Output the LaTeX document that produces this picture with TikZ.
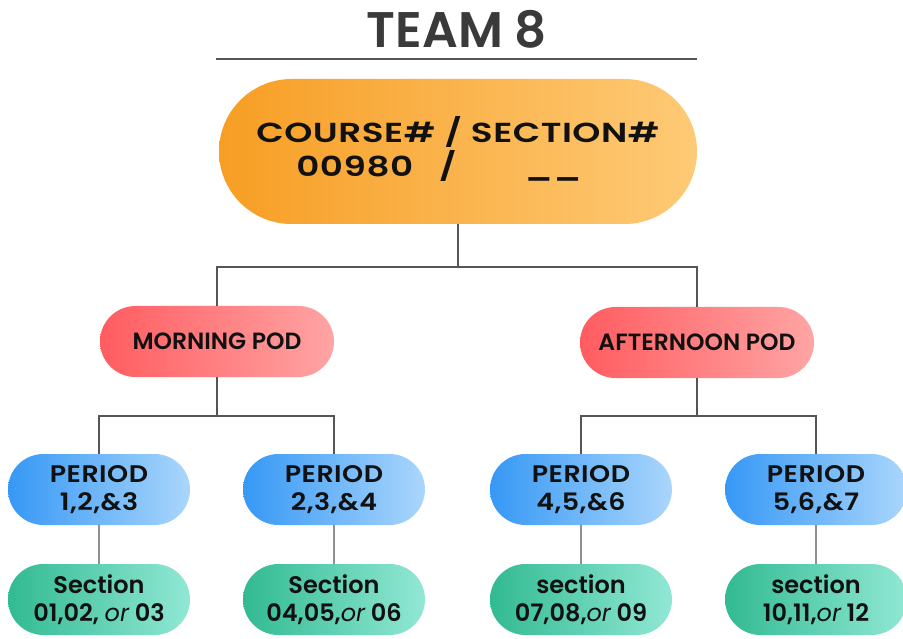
\documentclass[tikz,border=0pt]{standalone}
\usepackage{fontspec}
\setmainfont{Poppins}[BoldFont={Poppins SemiBold}]
\newfontfamily\coursefont{Poppins}[BoldFont={Poppins SemiBold},FakeStretch=1.3,LetterSpace=2]
\newfontfamily\periodfont{Poppins}[BoldFont={Poppins SemiBold},FakeStretch=1.12,LetterSpace=2]
\usetikzlibrary{shapes.misc}
\definecolor{orL}{RGB}{247,158,36}
\definecolor{orR}{RGB}{254,202,118}
\definecolor{pkL}{RGB}{255,92,96}
\definecolor{pkR}{RGB}{255,164,164}
\definecolor{blL}{RGB}{54,152,245}
\definecolor{blR}{RGB}{170,214,252}
\definecolor{grL}{RGB}{50,186,146}
\definecolor{grR}{RGB}{145,232,212}
\definecolor{ink}{RGB}{17,17,17}
\definecolor{ttl}{RGB}{58,58,58}
\definecolor{wire}{RGB}{85,85,85}
\tikzset{
  pill/.style={rounded rectangle, inner sep=0pt, text=ink, align=center},
  course/.style={pill, minimum width=478pt, minimum height=145pt, left color=orL, right color=orR, font=\coursefont\bfseries\fontsize{27.5}{32}\selectfont},
  pod/.style={pill, minimum width=234pt, minimum height=71pt, left color=pkL, right color=pkR, font=\bfseries\fontsize{23.5}{27}\selectfont},
  period/.style={pill, minimum width=182pt, minimum height=71pt, left color=blL, right color=blR, font=\periodfont\bfseries\fontsize{24}{28}\selectfont},
  sect/.style={pill, minimum width=182pt, minimum height=71pt, left color=grL, right color=grR, font=\bfseries\fontsize{24}{28}\selectfont},
  wirel/.style={draw=wire, line width=1.2pt},
}
\begin{document}
\begin{tikzpicture}[x=1pt,y=-1pt]
\useasboundingbox (0,0) rectangle (903,639);
\node[text=ttl, font=\bfseries\fontsize{50}{56}\selectfont] (title) at (457,29) {TEAM 8};
\draw[wirel] (216,59) -- (697,59);

\node[course] (course) at (458,151.5) {\begin{tabular}{@{}l@{}}COURSE\# / SECTION\#\\[-2pt]\hspace*{40pt}00980\hspace{26pt}/\hspace{68pt}\_\_\end{tabular}};

\node[pod] (morning) at (217,341.5) {MORNING POD};
\node[pod] (afternoon) at (697,342.5) {AFTERNOON POD};

\node[period] (p1) at (99,489.5) {PERIOD\\1,2,\&3};
\node[period] (p2) at (334,489.5) {PERIOD\\2,3,\&4};
\node[period] (p3) at (581,489.5) {PERIOD\\4,5,\&6};
\node[period] (p4) at (816,489.5) {PERIOD\\5,6,\&7};

\node[sect] (s1) at (99,599.5) {Section\\01,02, {\mdseries\itshape or} 03};
\node[sect] (s2) at (334,599.5) {Section\\04,05,{\mdseries\itshape or} 06};
\node[sect] (s3) at (581,599.5) {section\\07,08,{\mdseries\itshape or} 09};
\node[sect] (s4) at (816,599.5) {section\\10,11,{\mdseries\itshape or} 12};

\coordinate (j0) at (458,267);
\coordinate (j1) at (217,416);
\coordinate (j2) at (697,416);

\draw[wirel] (course.south) -- (j0);
\draw[wirel] (morning.north) -- (morning.north |- j0) -- (afternoon.north |- j0) -- (afternoon.north);
\draw[wirel] (morning.south) -- (j1);
\draw[wirel] (p1.north) -- (p1.north |- j1) -- (p2.north |- j1) -- (p2.north);
\draw[wirel] (afternoon.south) -- (j2);
\draw[wirel] (p3.north) -- (p3.north |- j2) -- (p4.north |- j2) -- (p4.north);
\draw[wirel] (p1) -- (s1);
\draw[wirel] (p2) -- (s2);
\draw[wirel] (p3) -- (s3);
\draw[wirel] (p4) -- (s4);
\end{tikzpicture}
\end{document}
